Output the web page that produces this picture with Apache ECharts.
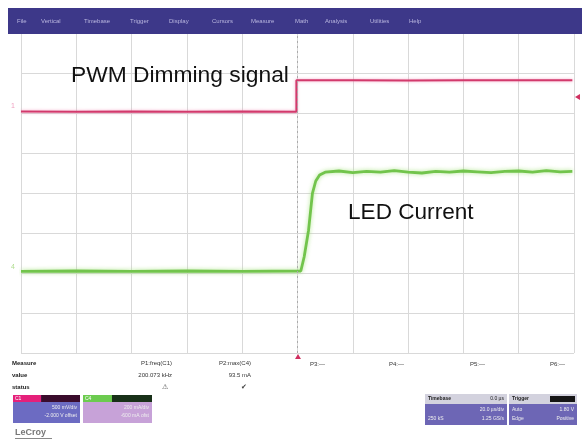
<!DOCTYPE html>
<html>
<head>
<meta charset="utf-8">
<script src="https://cdn.jsdelivr.net/npm/echarts@6/dist/echarts.min.js"></script>
<style>
    html, body {
        margin: 0;
        padding: 0;
        background: #fff;
    }
    #scope {
        width: 587px;
        height: 440px;
    }
</style>
</head>
<body>
<div id="scope"></div>
<script>
    // menu of the scope header
    const menuItems = ['File', 'Vertical', 'Timebase', 'Trigger', 'Display', 'Cursors', 'Measure', 'Math', 'Analysis', 'Utilities', 'Help']
    const menuX = [17, 41, 84, 130, 169, 212, 251, 295, 325, 370, 409]

    // C1 - PWM dimming signal (divisions)
    const pwmTime = [0, 1, 2, 3, 4, 4.98, 4.98, 6, 7, 8, 9, 9.97]
    const pwmLevel = [6.04, 6.03, 6.04, 6.03, 6.04, 6.03, 6.82, 6.82, 6.81, 6.82, 6.82, 6.82]

    // C4 - LED current (divisions)
    const ledTime = [0, 1, 2, 3, 4, 5.06, 5.12, 5.2, 5.27, 5.33, 5.4, 5.5, 5.75, 6, 6.25, 6.5, 6.75, 7, 7.25, 7.5, 7.75, 8, 8.25, 8.5, 8.75, 9, 9.25, 9.5, 9.75, 9.97]
    const ledLevel = [2.04, 2.05, 2.04, 2.05, 2.04, 2.05, 2.4, 3.07, 3.99, 4.3, 4.45, 4.52, 4.55, 4.51, 4.54, 4.52, 4.56, 4.52, 4.5, 4.54, 4.52, 4.55, 4.53, 4.51, 4.54, 4.55, 4.52, 4.56, 4.53, 4.54]

    // measurement table
    const measureNames = ['P1:freq(C1)', 'P2:max(C4)']
    const measureValues = ['200.073 kHz', '93.5 mA']
    const emptyParams = ['P3:---', 'P4:---', 'P5:---', 'P6:---']
    const emptyParamX = [310, 389, 470, 550]

    const toPairs = (xs, ys) => xs.map((x, i) => [x, ys[i]])

    const font = '"Liberation Sans", Arial, sans-serif'

    let chart = echarts.init(document.getElementById('scope'), null, {renderer: 'canvas'})

    let graphics = [
        // header bar
        {type: 'rect', shape: {x: 8, y: 8, width: 574, height: 26}, style: {fill: '#3d3889'}, z: 10}
    ]
    menuItems.forEach((m, i) => {
        graphics.push({
            type: 'text', x: menuX[i], y: 21, z: 11,
            style: {text: m, fill: '#b9b6df', font: '6px ' + font, textVerticalAlign: 'middle'}
        })
    })

    // annotations, above the grid lines
    graphics.push(
        {type: 'text', x: 71, y: 87, z: 20, style: {text: 'PWM Dimming signal', fill: '#111', font: '22.8px ' + font, textVerticalAlign: 'bottom'}},
        {type: 'text', x: 348, y: 224, z: 20, style: {text: 'LED Current', fill: '#111', font: '22.6px ' + font, textVerticalAlign: 'bottom'}}
    )

    // channel markers
    graphics.push(
        {type: 'text', x: 11, y: 106, style: {text: '1', fill: '#f0a0c0', font: '7px ' + font, textVerticalAlign: 'middle'}},
        {type: 'text', x: 11, y: 267, style: {text: '4', fill: '#b0dd90', font: '7px ' + font, textVerticalAlign: 'middle'}},
        {type: 'polygon', shape: {points: [[575, 97], [580, 94], [580, 100]]}, style: {fill: '#d03060'}},
        {type: 'polygon', shape: {points: [[298, 354], [295, 359], [301, 359]]}, style: {fill: '#d03060'}}
    )

    // measurement table
    const smallFont = '6px ' + font
    graphics.push(
        {type: 'text', x: 12, y: 363, style: {text: 'Measure', fill: '#222', font: 'bold ' + smallFont, textVerticalAlign: 'middle'}},
        {type: 'text', x: 12, y: 375, style: {text: 'value', fill: '#222', font: 'bold ' + smallFont, textVerticalAlign: 'middle'}},
        {type: 'text', x: 12, y: 387, style: {text: 'status', fill: '#222', font: 'bold ' + smallFont, textVerticalAlign: 'middle'}}
    )
    const measureRight = [172, 251]
    measureNames.forEach((n, i) => {
        graphics.push(
            {type: 'text', x: measureRight[i], y: 363, style: {text: n, fill: '#333', font: smallFont, align: 'right', textVerticalAlign: 'middle'}},
            {type: 'text', x: measureRight[i], y: 375, style: {text: measureValues[i], fill: '#333', font: smallFont, align: 'right', textVerticalAlign: 'middle'}},
            {type: 'text', x: measureRight[i] - 4, y: 387, style: {text: i === 0 ? '⚠' : '✔', fill: '#444', font: '7px ' + font, align: 'right', textVerticalAlign: 'middle'}}
        )
    })
    emptyParams.forEach((p, i) => {
        graphics.push({type: 'text', x: emptyParamX[i], y: 364, style: {text: p, fill: '#333', font: smallFont, textVerticalAlign: 'middle'}})
    })

    // channel descriptor boxes
    const box = (x, w, tagColor, darkColor, bodyColor, tag, line1, line2) => [
        {type: 'rect', shape: {x: x, y: 395, width: w, height: 28}, style: {fill: bodyColor}},
        {type: 'rect', shape: {x: x, y: 395, width: w * 0.42, height: 7}, style: {fill: tagColor}},
        {type: 'rect', shape: {x: x + w * 0.42, y: 395, width: w * 0.58, height: 7}, style: {fill: darkColor}},
        {type: 'text', x: x + 2, y: 398.5, style: {text: tag, fill: '#fff', font: '5px ' + font, textVerticalAlign: 'middle'}},
        {type: 'text', x: x + w - 3, y: 408, style: {text: line1, fill: '#eee', font: '5px ' + font, align: 'right', textVerticalAlign: 'middle'}},
        {type: 'text', x: x + w - 3, y: 416, style: {text: line2, fill: '#eee', font: '5px ' + font, align: 'right', textVerticalAlign: 'middle'}}
    ]
    graphics.push(...box(13, 67, '#e5207a', '#3a0c2c', '#6c6bc2', 'C1', '500 mV/div', '-2.000 V offset'))
    graphics.push(...box(83, 69, '#6ccb4f', '#183018', '#c7a2d8', 'C4', '200 mA/div', '-600 mA ofst'))

    // timebase and trigger boxes
    graphics.push(
        {type: 'rect', shape: {x: 425, y: 394, width: 82, height: 31}, style: {fill: '#6d66b5'}},
        {type: 'rect', shape: {x: 425, y: 394, width: 82, height: 10}, style: {fill: '#d3d2de'}},
        {type: 'rect', shape: {x: 509, y: 394, width: 68, height: 31}, style: {fill: '#6d66b5'}},
        {type: 'rect', shape: {x: 509, y: 394, width: 68, height: 10}, style: {fill: '#d3d2de'}},
        {type: 'rect', shape: {x: 550, y: 396, width: 25, height: 6}, style: {fill: '#151515'}},
        {type: 'text', x: 428, y: 399, style: {text: 'Timebase', fill: '#222', font: 'bold 5px ' + font, textVerticalAlign: 'middle'}},
        {type: 'text', x: 504, y: 399, style: {text: '0.0 µs', fill: '#222', font: '5px ' + font, align: 'right', textVerticalAlign: 'middle'}},
        {type: 'text', x: 504, y: 410, style: {text: '20.0 µs/div', fill: '#eee', font: '5px ' + font, align: 'right', textVerticalAlign: 'middle'}},
        {type: 'text', x: 428, y: 419, style: {text: '250 kS', fill: '#eee', font: '5px ' + font, textVerticalAlign: 'middle'}},
        {type: 'text', x: 504, y: 419, style: {text: '1.25 GS/s', fill: '#eee', font: '5px ' + font, align: 'right', textVerticalAlign: 'middle'}},
        {type: 'text', x: 512, y: 399, style: {text: 'Trigger', fill: '#222', font: 'bold 5px ' + font, textVerticalAlign: 'middle'}},
        {type: 'text', x: 512, y: 410, style: {text: 'Auto', fill: '#eee', font: '5px ' + font, textVerticalAlign: 'middle'}},
        {type: 'text', x: 574, y: 410, style: {text: '1.80 V', fill: '#eee', font: '5px ' + font, align: 'right', textVerticalAlign: 'middle'}},
        {type: 'text', x: 512, y: 419, style: {text: 'Edge', fill: '#eee', font: '5px ' + font, textVerticalAlign: 'middle'}},
        {type: 'text', x: 574, y: 419, style: {text: 'Positive', fill: '#eee', font: '5px ' + font, align: 'right', textVerticalAlign: 'middle'}},
        {type: 'text', x: 15, y: 433, style: {text: 'LeCroy', fill: '#777', font: 'bold 9px ' + font, textVerticalAlign: 'middle'}},
        {type: 'rect', shape: {x: 15, y: 438, width: 37, height: 1}, style: {fill: '#888'}}
    )

    chart.setOption({
        animation: false,
        backgroundColor: '#fff',
        grid: {
            left: 21,
            top: 33,
            width: 553,
            height: 320
        },
        xAxis: {
            type: 'value',
            min: 0,
            max: 10,
            interval: 1,
            axisLine: {show: false},
            axisTick: {show: false},
            axisLabel: {show: false},
            splitLine: {lineStyle: {color: '#d9d9d9', width: 1}}
        },
        yAxis: {
            type: 'value',
            min: 0,
            max: 8,
            interval: 1,
            axisLine: {show: false},
            axisTick: {show: false},
            axisLabel: {show: false},
            splitLine: {lineStyle: {color: '#d9d9d9', width: 1}}
        },
        series: [
            {
                name: 'PWM Dimming signal',
                type: 'line',
                data: toPairs(pwmTime, pwmLevel),
                symbol: 'none',
                lineStyle: {
                    color: '#d23a6c',
                    width: 2,
                    shadowColor: 'rgba(240, 120, 170, 0.7)',
                    shadowBlur: 3
                },
                markLine: {
                    silent: true,
                    symbol: 'none',
                    label: {show: false},
                    lineStyle: {color: '#aaa', type: [2, 3], width: 1},
                    data: [{xAxis: 5}]
                },
                z: 3
            },
            {
                name: 'LED Current',
                type: 'line',
                data: toPairs(ledTime, ledLevel),
                symbol: 'none',
                lineStyle: {
                    color: '#72c44c',
                    width: 2.8,
                    shadowColor: 'rgba(160, 225, 120, 0.8)',
                    shadowBlur: 4
                },
                z: 3
            }
        ],
        graphic: graphics
    })
</script>
</body>
</html>
